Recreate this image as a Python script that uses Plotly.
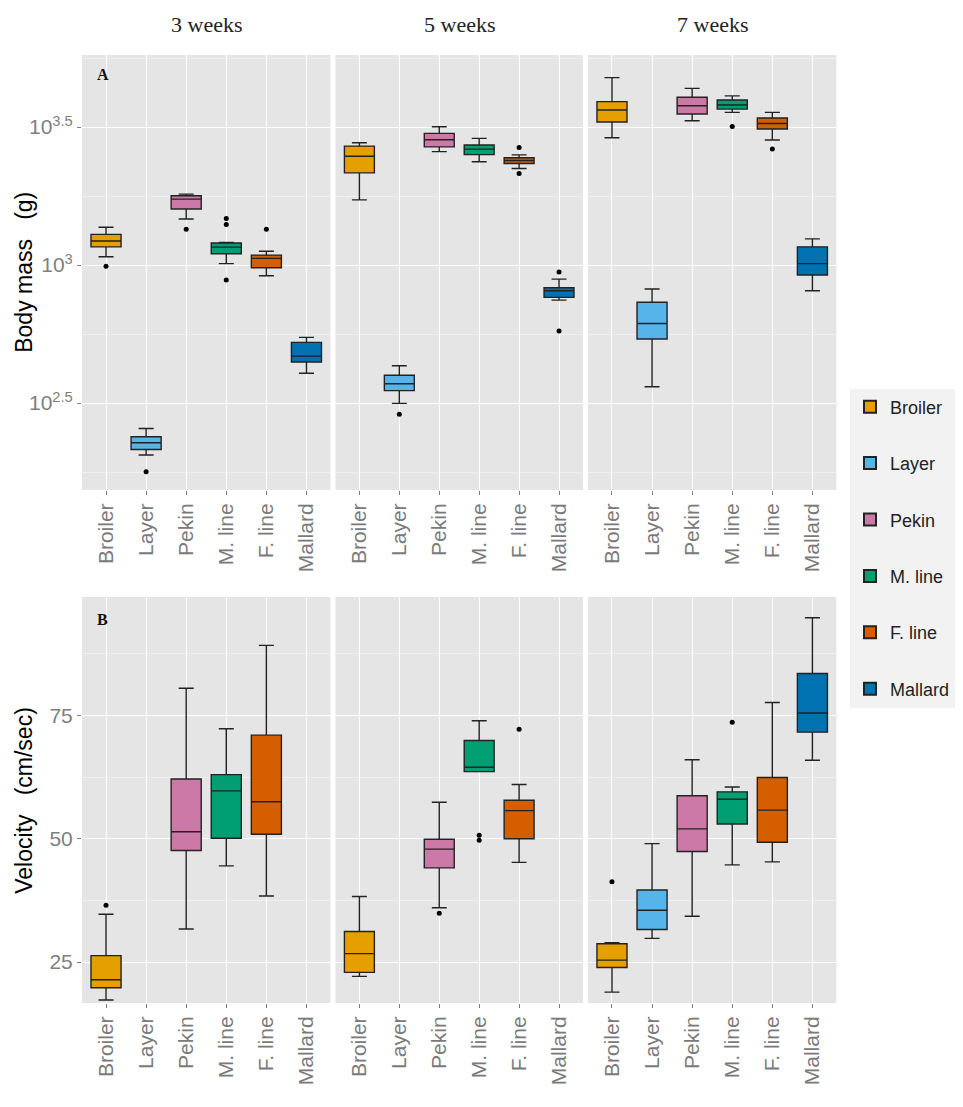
import plotly.graph_objects as go
from plotly.subplots import make_subplots

breeds = ["Broiler", "Layer", "Pekin", "M. line", "F. line", "Mallard"]
colors = ["#E69F00", "#56B4E9", "#CC79A7", "#009E73", "#D55E00", "#0072B2"]
weeks = ["3 weeks", "5 weeks", "7 weeks"]

# Panel A: body mass, log10(g): [lower whisker, q1, median, q3, upper whisker]
mass_w3 = [[3.030, 3.066, 3.087, 3.111, 3.137],
           [2.312, 2.332, 2.356, 2.378, 2.408],
           [3.167, 3.203, 3.239, 3.251, 3.257],
           [3.005, 3.041, 3.065, 3.080, 3.082],
           [2.961, 2.990, 3.024, 3.036, 3.050],
           [2.608, 2.649, 2.670, 2.720, 2.738]]
mass_w5 = [[3.236, 3.334, 3.394, 3.431, 3.443],
           [2.499, 2.545, 2.570, 2.601, 2.635],
           [3.411, 3.428, 3.454, 3.477, 3.501],
           [3.374, 3.400, 3.420, 3.435, 3.459],
           [3.350, 3.368, 3.379, 3.389, 3.399],
           [2.873, 2.883, 2.907, 2.918, 2.949]]
mass_w7 = [[3.461, 3.518, 3.562, 3.592, 3.679],
           [2.559, 2.732, 2.788, 2.865, 2.913],
           [3.523, 3.547, 3.577, 3.608, 3.640],
           [3.553, 3.565, 3.580, 3.598, 3.613],
           [3.453, 3.493, 3.513, 3.533, 3.553],
           [2.907, 2.964, 3.005, 3.066, 3.095]]
mass_out_w3 = [[2.996], [2.251], [3.130], [3.169, 3.147, 2.946], [3.130], []]
mass_out_w5 = [[], [2.459], [], [], [3.426, 3.332], [2.975, 2.761]]
mass_out_w7 = [[], [], [], [3.502], [3.420], []]

# Panel B: velocity cm/sec
vel_w3 = [[17.3, 19.8, 21.4, 26.3, 34.7], None,
          [31.7, 47.6, 51.4, 62.1, 80.5],
          [44.5, 50.1, 59.7, 63.0, 72.3],
          [38.4, 50.9, 57.5, 71.0, 89.2], None]
vel_w5 = [[22.1, 22.9, 26.7, 31.2, 38.3], None,
          [36.0, 44.1, 47.9, 49.9, 57.4],
          [63.6, 63.6, 64.5, 69.9, 73.9],
          [45.2, 50.0, 55.7, 57.8, 61.0], None]
vel_w7 = [[18.9, 23.9, 25.4, 28.7, 28.9],
          [29.8, 31.6, 35.5, 39.6, 49.0],
          [34.3, 47.4, 52.0, 58.7, 66.0],
          [44.7, 53.0, 58.0, 59.5, 60.5],
          [45.3, 49.3, 55.8, 62.4, 77.6],
          [65.9, 71.6, 75.5, 83.5, 94.8]]
vel_out_w3 = [[36.5], [], [], [], [], []]
vel_out_w5 = [[], [], [34.9], [50.7, 49.7], [72.2], []]
vel_out_w7 = [[41.3], [], [], [73.6], [], []]

fig = make_subplots(rows=2, cols=3)
OFF = 8
W, H = 963 - 2 * OFF, 1107 - 2 * OFF
def px(x): return (x - OFF) / W
def py(y): return (H - (y - OFF)) / H
xd = [(83, 335), (340, 591), (596, 848)]
yd = [(55, 490), (597, 1003)]

def add_panel(stats, outs, row, col, log):
    for i, b in enumerate(breeds):
        s = stats[i]
        if s is not None:
            v = [10 ** t for t in s] if log else s
            fig.add_trace(go.Box(
                x=[b], lowerfence=[v[0]], q1=[v[1]], median=[v[2]], q3=[v[3]], upperfence=[v[4]],
                name=b, fillcolor=colors[i], line=dict(color="#222222", width=1.4),
                width=0.75, legendgroup=b, showlegend=(row == 1 and col == 1),
                hoverinfo="skip"), row=row, col=col)
        o = outs[i]
        if o:
            ov = [10 ** t for t in o] if log else o
            fig.add_trace(go.Scatter(x=[b] * len(ov), y=ov, mode="markers",
                                     marker=dict(color="black", size=5),
                                     showlegend=False), row=row, col=col)

for c, (st, ou) in enumerate([(mass_w3, mass_out_w3), (mass_w5, mass_out_w5), (mass_w7, mass_out_w7)]):
    add_panel(st, ou, 1, c + 1, True)
for c, (st, ou) in enumerate([(vel_w3, vel_out_w3), (vel_w5, vel_out_w5), (vel_w7, vel_out_w7)]):
    add_panel(st, ou, 2, c + 1, False)

for r in range(2):
    for c in range(3):
        idx = r * 3 + c + 1
        xa = "xaxis" if idx == 1 else f"xaxis{idx}"
        ya = "yaxis" if idx == 1 else f"yaxis{idx}"
        fig.layout[xa].update(domain=[px(xd[c][0]), px(xd[c][1])], type="category",
                              categoryorder="array", categoryarray=breeds,
                              range=[-0.6, 5.6], tickangle=-90, automargin=False,
                              tickfont=dict(family="Liberation Sans, Arial", size=21, color="#7a7a7a"),
                              gridcolor="white", gridwidth=1.3, showline=False, zeroline=False,
                              ticks="outside", ticklen=4, tickcolor="#7f7f7f")
        y0, y1 = yd[r]
        common = dict(domain=[py(y1), py(y0)], automargin=False,
                      gridcolor="white", gridwidth=1.3, zeroline=False,
                      tickfont=dict(family="Liberation Sans, Arial", size=21, color="#7f7f7f"),
                      ticks="outside" if c == 0 else "", ticklen=4, tickcolor="#7f7f7f",
                      showticklabels=(c == 0))
        if r == 0:
            fig.layout[ya].update(type="log", range=[2.185, 3.761],
                                  tickvals=[10 ** 2.5, 1000, 10 ** 3.5],
                                  ticktext=["10<sup>2.5</sup>", "10<sup>3</sup>", "10<sup>3.5</sup>"],
                                  minor=dict(tickvals=[10 ** 2.25, 10 ** 2.75, 10 ** 3.25, 10 ** 3.75],
                                             gridcolor="#f0f0f0", gridwidth=0.6, ticks=""),
                                  **common)
        else:
            fig.layout[ya].update(range=[16.7, 99.0], tickvals=[25, 50, 75],
                                  minor=dict(tickvals=[37.5, 62.5, 87.5],
                                             gridcolor="#f0f0f0", gridwidth=0.6, ticks=""),
                                  **common)

ann = []
def A(text, x, y, size, family, color="#111", angle=0):
    ann.append(dict(text=text, x=px(x), y=py(y), xref="paper", yref="paper", showarrow=False,
                    xanchor="center", yanchor="middle", textangle=angle,
                    font=dict(family=family, size=size, color=color)))
for c, w in enumerate(weeks):
    A(w, (xd[c][0] + xd[c][1]) / 2, 25, 22, "Liberation Serif, Times New Roman", "#222")
A("<b>A</b>", 104, 75, 16, "Liberation Serif")
A("<b>B</b>", 104, 619, 16, "Liberation Serif")
A("Body mass   (g)", 24, 272, 23, "Liberation Sans, Arial", "black", -90)
A("Velocity   (cm/sec)", 24, 800, 23, "Liberation Sans, Arial", "black", -90)

fig.update_layout(width=W, height=H, margin=dict(l=0, r=0, t=0, b=0),
                  paper_bgcolor="white", plot_bgcolor="#e5e5e5",
                  boxmode="overlay", annotations=ann,
                  legend=dict(x=px(862), y=py(548), xanchor="left", yanchor="middle",
                              bgcolor="#f2f2f2", font=dict(family="Liberation Sans, Arial", size=18, color="#222"),
                              tracegroupgap=30, itemsizing="constant"))
fig.write_html("out.html")
